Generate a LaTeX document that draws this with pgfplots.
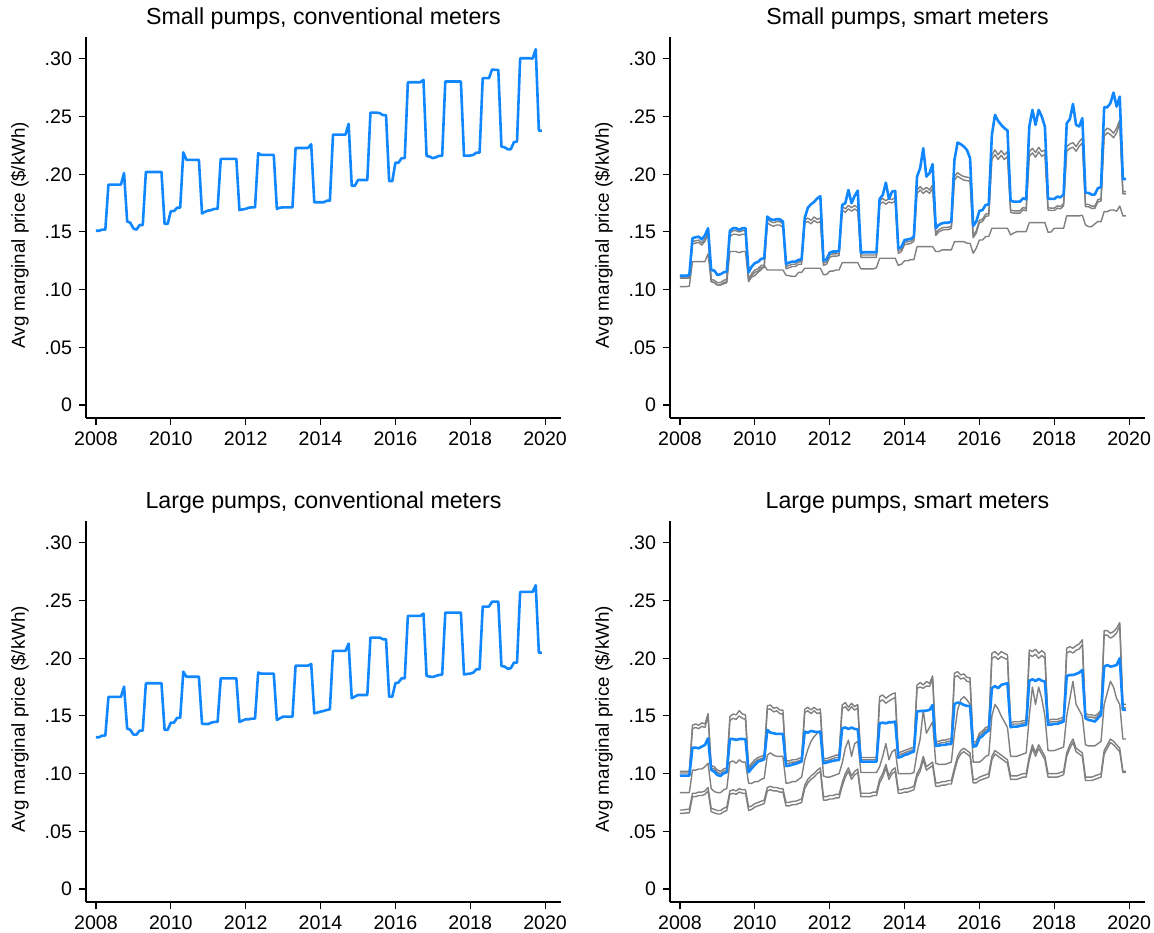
\documentclass[border=0pt]{standalone}
\usepackage{fontspec}
\setmainfont{Liberation Sans}
\usepackage{pgfplots}
\usepackage{pgfplotstable}
\pgfplotsset{compat=1.18}
\definecolor{sblue}{RGB}{16,134,255}
\definecolor{sgray}{RGB}{128,128,128}

% ---------- Top left: small pumps, conventional meters ----------
\pgfplotstableread[row sep=\\]{v\\
.151\\ .151\\ .152\\ .152\\ .191\\ .191\\ .191\\ .191\\ .191\\ .201\\ .159\\ .158\\
.153\\ .152\\ .156\\ .156\\ .202\\ .202\\ .202\\ .202\\ .202\\ .202\\ .157\\ .157\\
.168\\ .168\\ .171\\ .171\\ .219\\ .2125\\ .2125\\ .2125\\ .2125\\ .2125\\ .166\\ .1675\\
.1685\\ .169\\ .170\\ .170\\ .2133\\ .2133\\ .2133\\ .2133\\ .2133\\ .2133\\ .169\\ .1695\\
.170\\ .171\\ .1713\\ .1713\\ .2183\\ .2168\\ .2168\\ .2168\\ .2168\\ .2168\\ .170\\ .171\\
.1713\\ .1713\\ .1713\\ .1713\\ .2228\\ .2228\\ .2228\\ .2228\\ .2228\\ .226\\ .1757\\ .1757\\
.1757\\ .1757\\ .177\\ .177\\ .2344\\ .2344\\ .2344\\ .2344\\ .2344\\ .2437\\ .190\\ .190\\
.195\\ .195\\ .195\\ .195\\ .2534\\ .2534\\ .2534\\ .253\\ .2512\\ .2512\\ .194\\ .194\\
.210\\ .210\\ .214\\ .214\\ .2798\\ .2798\\ .2798\\ .2798\\ .2798\\ .2818\\ .2159\\ .2153\\
.214\\ .2147\\ .216\\ .216\\ .2804\\ .2804\\ .2804\\ .2804\\ .2804\\ .2804\\ .216\\ .2162\\
.2162\\ .2168\\ .2188\\ .2188\\ .2833\\ .2833\\ .2833\\ .2908\\ .2905\\ .2905\\ .224\\ .2234\\
.2217\\ .2217\\ .2278\\ .2284\\ .3006\\ .3006\\ .3006\\ .3006\\ .3003\\ .3084\\ .2378\\ .2378\\
}\TLdata

% ---------- Bottom left: large pumps, conventional meters ----------
\pgfplotstableread[row sep=\\]{v\\
.1315\\ .1315\\ .133\\ .133\\ .1665\\ .1665\\ .1665\\ .1665\\ .1665\\ .1754\\ .139\\ .138\\
.1338\\ .1338\\ .1373\\ .1373\\ .1783\\ .1783\\ .1783\\ .1783\\ .1783\\ .1783\\ .1379\\ .138\\
.1442\\ .1442\\ .1483\\ .1483\\ .1884\\ .184\\ .184\\ .184\\ .184\\ .184\\ .1433\\ .143\\
.143\\ .1442\\ .1448\\ .1448\\ .1826\\ .1826\\ .1826\\ .1826\\ .1826\\ .1826\\ .1448\\ .146\\
.1471\\ .1471\\ .1477\\ .1477\\ .1876\\ .1867\\ .1867\\ .1867\\ .1867\\ .1867\\ .1465\\ .148\\
.1494\\ .1494\\ .1494\\ .1494\\ .1936\\ .1936\\ .1936\\ .1936\\ .1936\\ .1951\\ .1523\\ .1529\\
.1538\\ .1543\\ .1552\\ .1558\\ .2064\\ .2064\\ .2064\\ .2064\\ .2064\\ .2127\\ .1653\\ .1668\\
.1682\\ .1682\\ .1682\\ .1682\\ .2179\\ .2179\\ .2179\\ .2179\\ .2165\\ .2165\\ .1667\\ .1667\\
.1783\\ .179\\ .1827\\ .1827\\ .2367\\ .2367\\ .2367\\ .2367\\ .2367\\ .2387\\ .1847\\ .1841\\
.1838\\ .1847\\ .1855\\ .1858\\ .2396\\ .2396\\ .2396\\ .2396\\ .2396\\ .2396\\ .186\\ .1864\\
.1867\\ .1876\\ .1905\\ .1905\\ .2448\\ .2448\\ .2448\\ .2491\\ .2491\\ .2491\\ .1933\\ .1928\\
.191\\ .1913\\ .1962\\ .1962\\ .2575\\ .2575\\ .2575\\ .2575\\ .2575\\ .2633\\ .2049\\ .2049\\
}\BLdata

% ---------- Top right: small pumps, smart meters ----------
\pgfplotstableread[row sep=\\]{v g1 g2 g3\\
.112 .111 .110 .1026\\ .112 .111 .110 .1026\\ .112 .111 .110 .1026\\ .1127 .111 .110 .103\\
.1445 .1415 .1395 .1243\\ .1454 .1424 .1404 .1243\\ .1459 .1429 .1409 .1243\\ .1436 .1406 .1386 .1243\\ .147 .144 .142 .1243\\ .1532 .150 .148 .131\\
.117 .109 .107 .107\\ .1165 .108 .106 .106\\
.1127 .106 .104 .104\\ .1133 .106 .104 .104\\ .115 .108 .106 .105\\ .1156 .109 .107 .106\\
.1511 .149 .146 .133\\ .1532 .151 .148 .133\\ .1532 .151 .148 .133\\ .1518 .150 .147 .132\\ .1532 .151 .148 .133\\ .1532 .151 .148 .133\\
.115 .109 .107 .107\\ .120 .114 .112 .111\\
.123 .117 .115 .112\\ .124 .118 .116 .115\\ .1266 .121 .119 .117\\ .1272 .121 .119 .121\\
.1633 .161 .158 .117\\ .161 .159 .156 .117\\ .1604 .158 .155 .117\\ .161 .159 .156 .117\\ .161 .159 .156 .117\\ .159 .157 .154 .117\\
.1223 .120 .118 .1125\\ .1234 .121 .119 .112\\
.1243 .122 .120 .1115\\ .1243 .122 .120 .1115\\ .1258 .124 .122 .115\\ .1263 .124 .122 .115\\
.162 .1605 .158 .1185\\ .171 .162 .159 .1185\\ .174 .160 .157 .1185\\ .176 .163 .160 .1185\\ .179 .161 .158 .1185\\ .181 .162 .159 .1185\\
.1251 .123 .121 .113\\ .1263 .124 .122 .113\\
.132 .130 .128 .116\\ .133 .131 .129 .116\\ .133 .131 .129 .117\\ .1335 .1315 .1295 .117\\
.1734 .172 .169 .1234\\ .1749 .170 .167 .1234\\ .1864 .173 .170 .1234\\ .1749 .171 .168 .1234\\ .1812 .173 .170 .1234\\ .1858 .171 .168 .1234\\
.132 .130 .128 .118\\ .1324 .130 .128 .118\\
.1324 .130 .128 .118\\ .1324 .130 .128 .118\\ .1324 .130 .128 .118\\ .1324 .130 .128 .119\\
.1786 .177 .174 .1272\\ .182 .179 .176 .1272\\ .1928 .177 .174 .1272\\ .1786 .179 .176 .1272\\ .185 .178 .175 .1272\\ .1855 .180 .177 .1272\\
.1358 .1335 .1315 .121\\ .137 .135 .133 .122\\
.143 .141 .139 .125\\ .1435 .1415 .1395 .125\\ .144 .142 .140 .126\\ .146 .144 .142 .126\\
.198 .1864 .1834 .1373\\ .2052 .1893 .1863 .1373\\ .2226 .1864 .1834 .1373\\ .198 .1887 .1857 .1373\\ .2009 .1864 .1834 .1373\\ .2087 .1907 .1877 .1373\\
.1532 .149 .147 .133\\ .1561 .152 .150 .133\\
.1575 .1535 .1515 .1344\\ .158 .154 .152 .1344\\ .158 .154 .152 .1344\\ .159 .155 .153 .1344\\
.2124 .198 .195 .1416\\ .2275 .2014 .1984 .1416\\ .2261 .1994 .1964 .1416\\ .224 .198 .195 .1416\\ .2211 .1975 .1945 .1402\\ .2139 .197 .194 .1402\\
.1552 .147 .145 .1315\\ .159 .151 .149 .136\\
.1682 .160 .158 .143\\ .169 .161 .159 .143\\ .1734 .1655 .1635 .146\\ .174 .166 .164 .146\\
.2341 .2168 .2128 .1532\\ .2515 .2211 .2171 .1532\\ .2462 .2168 .2128 .1532\\ .2428 .2205 .2165 .1532\\ .240 .2168 .2128 .1532\\ .2379 .2196 .2156 .1532\\
.177 .169 .167 .1474\\ .1763 .1683 .1663 .149\\
.1763 .1683 .1663 .1503\\ .1763 .1683 .1663 .1503\\ .1792 .1712 .1692 .1503\\ .1783 .1703 .1683 .1503\\
.2414 .2196 .2156 .1581\\ .2558 .2225 .2185 .1581\\ .2428 .2188 .2148 .1581\\ .2558 .2234 .2194 .1581\\ .250 .2196 .2156 .1581\\ .2414 .2211 .2171 .1581\\
.179 .171 .169 .1497\\ .1786 .1706 .1686 .150\\
.1786 .1706 .1686 .1532\\ .1806 .1726 .1706 .1532\\ .180 .172 .170 .1532\\ .1826 .1746 .1726 .1532\\
.2442 .224 .220 .1639\\ .2477 .2263 .2223 .1639\\ .261 .2274 .2234 .1639\\ .2428 .224 .220 .1639\\ .2414 .2283 .2243 .1639\\ .2486 .2312 .2272 .1645\\
.184 .174 .172 .1561\\ .1838 .1738 .1718 .1546\\
.1824 .1724 .1704 .1546\\ .1824 .1724 .1704 .157\\ .188 .178 .176 .159\\ .1888 .1788 .1768 .159\\
.2581 .237 .233 .1676\\ .2581 .240 .236 .1676\\ .2616 .2385 .2345 .169\\ .2708 .2356 .2316 .169\\ .2587 .240 .236 .168\\ .2673 .2471 .2441 .1725\\
.1957 .185 .183 .1639\\ .196 .185 .183 .1639\\
}\TRdata

% ---------- Bottom right: large pumps, smart meters ----------
\pgfplotstableread[row sep=\\]{v a b c d e\\
.0983 .102 .1005 .0835 .0685 .0655\\ .0983 .102 .1005 .0835 .0685 .0655\\ .0983 .102 .1005 .0835 .069 .066\\ .0983 .102 .1005 .0835 .069 .066\\
.1225 .142 .139 .103 .083 .080\\ .1225 .143 .140 .103 .083 .080\\ .122 .142 .139 .104 .084 .081\\ .1234 .144 .141 .104 .084 .081\\ .1249 .143 .140 .106 .085 .082\\ .1306 .152 .150 .109 .088 .085\\
.1032 .107 .105 .087 .070 .067\\ .1017 .106 .104 .0845 .069 .066\\
.0988 .103 .101 .0835 .068 .065\\ .098 .102 .100 .0835 .068 .065\\ .1003 .104 .102 .086 .070 .067\\ .1012 .105 .103 .087 .071 .068\\
.130 .1494 .146 .110 .085 .082\\ .130 .1517 .148 .111 .086 .083\\ .1292 .1509 .147 .109 .085 .082\\ .130 .1546 .150 .112 .087 .084\\ .130 .1517 .148 .110 .086 .083\\ .1298 .1509 .147 .110 .086 .083\\
.1012 .105 .103 .0916 .071 .068\\ .1046 .109 .107 .0916 .072 .069\\
.1075 .112 .110 .093 .074 .071\\ .1104 .114 .112 .093 .075 .072\\ .1113 .115 .113 .095 .076 .073\\ .1124 .116 .114 .096 .077 .074\\
.1379 .1587 .1558 .116 .088 .085\\ .1355 .1595 .156 .118 .089 .086\\ .135 .1566 .1535 .116 .088 .085\\ .1344 .1575 .1545 .115 .088 .085\\ .1344 .1552 .152 .115 .087 .084\\ .1344 .155 .1515 .115 .087 .084\\
.1066 .111 .109 .0916 .075 .072\\ .1069 .111 .109 .092 .075 .072\\
.1078 .112 .110 .093 .076 .073\\ .1084 .112 .110 .093 .076 .073\\ .1095 .113 .111 .095 .077 .074\\ .1104 .114 .112 .097 .078 .075\\
.1364 .1558 .153 .112 .090 .087\\ .1355 .1575 .1545 .121 .095 .092\\ .137 .1552 .152 .128 .098 .095\\ .1364 .1575 .1545 .132 .100 .097\\ .136 .1552 .152 .135 .103 .100\\ .1364 .156 .153 .137 .105 .102\\
.109 .113 .111 .098 .080 .077\\ .1095 .113 .111 .097 .080 .077\\
.1104 .114 .112 .097 .081 .078\\ .111 .115 .113 .098 .081 .078\\ .1116 .116 .114 .099 .082 .079\\ .1118 .116 .114 .100 .082 .079\\
.1393 .1595 .1565 .109 .092 .089\\ .140 .1616 .158 .122 .100 .097\\ .1387 .1575 .1545 .129 .105 .102\\ .140 .161 .158 .115 .098 .095\\ .1387 .158 .155 .126 .102 .099\\ .1384 .160 .157 .128 .104 .101\\
.1104 .114 .112 .101 .083 .080\\ .1104 .114 .112 .101 .083 .080\\
.1104 .114 .112 .101 .083 .080\\ .1104 .114 .112 .101 .083 .080\\ .1104 .114 .112 .101 .084 .081\\ .1104 .114 .112 .101 .084 .081\\
.1436 .1668 .1624 .106 .095 .092\\ .1442 .1682 .164 .115 .100 .097\\ .1436 .1653 .161 .126 .108 .105\\ .1445 .1673 .163 .112 .098 .095\\ .1445 .169 .1645 .119 .103 .100\\ .1451 .170 .166 .121 .105 .102\\
.1139 .118 .116 .100 .086 .083\\ .1147 .119 .117 .100 .086 .083\\
.1162 .120 .118 .100 .087 .084\\ .1168 .121 .119 .100 .087 .084\\ .1182 .122 .120 .100 .088 .085\\ .1191 .123 .121 .101 .089 .086\\
.1538 .1769 .174 .118 .100 .097\\ .1543 .1789 .175 .130 .105 .102\\ .1543 .1769 .174 .155 .115 .112\\ .1546 .1798 .176 .135 .106 .103\\ .1552 .1783 .1755 .140 .108 .105\\ .1595 .1847 .182 .145 .110 .107\\
.124 .128 .126 .109 .092 .089\\ .1243 .128 .126 .108 .092 .089\\
.1249 .129 .127 .108 .093 .090\\ .1249 .129 .127 .108 .093 .090\\ .1257 .130 .128 .109 .094 .091\\ .1257 .130 .128 .110 .094 .091\\
.1604 .187 .1835 .135 .105 .102\\ .1616 .1884 .185 .155 .115 .112\\ .161 .1855 .182 .164 .120 .117\\ .1595 .1864 .183 .1667 .122 .119\\ .1587 .1835 .180 .164 .120 .117\\ .1587 .183 .1795 .160 .118 .115\\
.1234 .127 .125 .110 .095 .092\\ .124 .128 .126 .110 .095 .092\\
.1306 .135 .133 .110 .097 .094\\ .1327 .137 .135 .112 .098 .095\\ .1355 .140 .138 .115 .099 .096\\ .1373 .141 .139 .116 .100 .097\\
.174 .2043 .200 .150 .115 .112\\ .176 .2058 .2015 .160 .120 .117\\ .174 .2029 .199 .156 .118 .115\\ .1769 .2058 .2015 .150 .116 .113\\ .1777 .2043 .200 .145 .114 .111\\ .1783 .2029 .199 .140 .112 .109\\
.1402 .144 .142 .115 .098 .095\\ .1408 .145 .143 .115 .098 .095\\
.1408 .145 .143 .115 .098 .095\\ .1413 .145 .143 .116 .099 .096\\ .1419 .146 .144 .117 .100 .097\\ .1422 .146 .144 .118 .100 .097\\
.1806 .2072 .203 .150 .115 .112\\ .1818 .2058 .2015 .175 .125 .122\\ .1803 .2078 .2035 .160 .118 .115\\ .1821 .2043 .200 .175 .125 .122\\ .1806 .2066 .2025 .165 .120 .117\\ .1798 .2043 .200 .150 .115 .112\\
.1422 .146 .144 .120 .100 .097\\ .1425 .147 .145 .120 .100 .097\\
.1431 .147 .145 .120 .100 .097\\ .1431 .147 .145 .121 .100 .097\\ .1442 .148 .146 .122 .101 .098\\ .1451 .149 .147 .123 .102 .099\\
.1847 .2087 .2045 .150 .118 .115\\ .1855 .2101 .206 .165 .125 .122\\ .1855 .2087 .2045 .180 .130 .127\\ .1864 .211 .207 .160 .122 .119\\ .1876 .2124 .208 .155 .120 .117\\ .1899 .216 .212 .150 .118 .115\\
.148 .152 .150 .125 .097 .094\\ .1465 .151 .149 .124 .097 .094\\
.146 .151 .149 .124 .097 .094\\ .1451 .150 .148 .124 .098 .095\\ .148 .152 .150 .126 .099 .096\\ .1509 .155 .153 .128 .100 .097\\
.1928 .224 .220 .160 .120 .117\\ .1942 .224 .220 .170 .125 .122\\ .1928 .2217 .2175 .180 .130 .127\\ .1933 .2231 .219 .175 .128 .125\\ .1942 .226 .222 .165 .125 .122\\ .200 .231 .228 .160 .122 .119\\
.1552 .160 .157 .130 .102 .101\\ .1552 .160 .157 .130 .102 .101\\
}\BRdata

\pgfplotsset{
  panel/.style={
    scale only axis, width=237.5pt, height=190.5pt,
    xmin=-3.2, xmax=149.1, ymin=-0.0113, ymax=0.319,
    axis x line*=bottom, axis y line*=left,
    axis line style={-, black, line width=0.55pt},
    xtick={0,24,48,72,96,120,144},
    xticklabels={2008,2010,2012,2014,2016,2018,2020},
    ytick={0,0.05,0.10,0.15,0.20,0.25,0.30},
    yticklabels={0,.05,.10,.15,.20,.25,.30},
    tick align=outside, major tick length=3.5pt,
    tick style={black, line width=0.55pt},
    ticklabel style={font=\fontsize{9.8}{11}\selectfont},
    ylabel={Avg marginal price (\$/kWh)},
    ylabel style={font=\fontsize{9.4}{11}\selectfont, at={(axis description cs:-0.139,0.48)}, anchor=center},
    title style={font=\fontsize{11.6}{13}\selectfont, at={(axis description cs:0.5,1)}, anchor=base, yshift=0pt},
  },
  bluel/.style={color=sblue, line width=1.3pt, line join=round, no marks},
  grayl/.style={color=sgray, line width=0.7pt, line join=round, no marks},
}

\begin{document}
\begin{tikzpicture}
\useasboundingbox (0,0) rectangle (577pt,466pt);

\begin{axis}[panel, at={(43pt,257pt)}, anchor=south west,
  title={Small pumps, conventional meters}]
\addplot[bluel] table[x expr=\coordindex, y=v]{\TLdata};
\end{axis}

\begin{axis}[panel, at={(335pt,257pt)}, anchor=south west,
  title={Small pumps, smart meters}]
\addplot[grayl] table[x expr=\coordindex, y=g3]{\TRdata};
\addplot[grayl] table[x expr=\coordindex, y=g2]{\TRdata};
\addplot[grayl] table[x expr=\coordindex, y=g1]{\TRdata};
\addplot[bluel] table[x expr=\coordindex, y=v]{\TRdata};
\end{axis}

\begin{axis}[panel, at={(43pt,15pt)}, anchor=south west,
  title={Large pumps, conventional meters}]
\addplot[bluel] table[x expr=\coordindex, y=v]{\BLdata};
\end{axis}

\begin{axis}[panel, at={(335pt,15pt)}, anchor=south west,
  title={Large pumps, smart meters}]
\addplot[grayl] table[x expr=\coordindex, y=e]{\BRdata};
\addplot[grayl] table[x expr=\coordindex, y=d]{\BRdata};
\addplot[grayl] table[x expr=\coordindex, y=c]{\BRdata};
\addplot[grayl] table[x expr=\coordindex, y=b]{\BRdata};
\addplot[grayl] table[x expr=\coordindex, y=a]{\BRdata};
\addplot[bluel] table[x expr=\coordindex, y=v]{\BRdata};
\end{axis}
\end{tikzpicture}
\end{document}
